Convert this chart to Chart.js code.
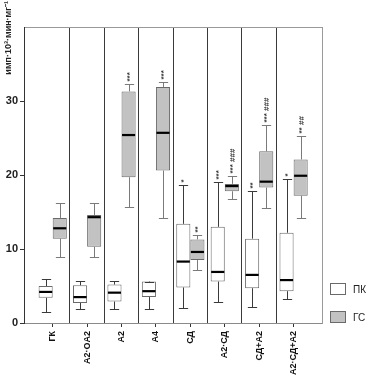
<!DOCTYPE html>
<html>
<head>
<meta charset="utf-8">
<script src="https://cdn.jsdelivr.net/npm/chart.js@4.4.1/dist/chart.umd.min.js"></script>
<style>
  html, body { margin: 0; padding: 0; background: #fff; }
  #wrap { position: relative; width: 372px; height: 378px; }
  #legend { position: absolute; left: 330px; top: 283px; font: 10px 'Liberation Sans', sans-serif; color: #222; }
  #legend .item { display: flex; align-items: center; height: 12px; margin-bottom: 16px; }
  #legend .box { width: 16px; height: 12px; box-sizing: border-box; border: 1px solid; margin-right: 7px; }
</style>
</head>
<body>
<div id="wrap"><canvas id="chart"></canvas><div id="legend"></div></div>
<script>
const groups = ['ГК', 'A2·OA2', 'A2', 'A4', 'СД', 'A2·СД', 'СД+A2', 'A2·СД+A2'];
const yTicks = [0, 10, 20, 30];
const yTitle = 'имп·10³·мин·мг⁻¹';

// ПК
const pkMin = [1.5, 1.9, 1.9, 1.9, 2.0, 2.8, 2.2, 3.2];
const pkQ1  = [3.4, 2.7, 2.9, 3.5, 4.8, 5.6, 4.7, 4.3];
const pkMed = [4.2, 3.5, 4.1, 4.3, 8.3, 6.9, 6.5, 5.8];
const pkQ3  = [5.0, 5.1, 5.2, 5.6, 13.4, 13.0, 11.4, 12.2];
const pkMax = [6.0, 5.7, 5.7, 5.6, 18.7, 19.0, 17.8, 19.4];
const pkMarks = ['', '', '', '', '*', '***', '**', '*'];

// ГС
const gsMin = [8.9, 8.9, 15.7, 14.2, 7.1, 16.7, 15.5, 14.2];
const gsQ1  = [11.4, 10.3, 19.7, 20.6, 8.5, 17.8, 18.3, 17.2];
const gsMed = [12.8, 14.3, 25.4, 25.7, 9.6, 18.5, 19.1, 19.9];
const gsQ3  = [14.2, 14.6, 31.3, 31.9, 11.3, 18.8, 23.2, 22.1];
const gsMax = [16.2, 16.2, 32.3, 32.6, 11.9, 19.8, 26.8, 25.3];
const gsMarks = ['', '', '***', '***', '**', '*** ###', '*** ###', '** ##'];

const series = [
  { min: pkMin, med: pkMed, max: pkMax, marks: pkMarks, whisker: '#3a3a3a' },
  { min: gsMin, med: gsMed, max: gsMax, marks: gsMarks, whisker: '#7a7a7a' }
];

const FONT = 'Liberation Sans';
const X_MIN = -0.834, X_MAX = 7.834;

/* whiskers, medians and significance marks on top of the boxes */
const boxParts = {
  id: 'boxParts',
  afterDatasetsDraw(chart) {
    const { ctx, scales: { y } } = chart;
    ctx.save();
    series.forEach((s, di) => {
      chart.getDatasetMeta(di).data.forEach((bar, i) => {
        const x = Math.round(bar.x) + 0.5;
        const w = bar.width;
        const lo = Math.round(y.getPixelForValue(s.min[i])) + 0.5;
        const hi = Math.round(y.getPixelForValue(s.max[i])) + 0.5;
        const { y: top, base } = bar.getProps(['y', 'base'], true);
        const q3 = Math.min(top, base), q1 = Math.max(top, base);
        ctx.strokeStyle = s.whisker;
        ctx.lineWidth = 1;
        ctx.beginPath();
        ctx.moveTo(x, q3); ctx.lineTo(x, hi);
        ctx.moveTo(x, q1); ctx.lineTo(x, lo);
        ctx.moveTo(x - w * 0.33, hi); ctx.lineTo(x + w * 0.33, hi);
        ctx.moveTo(x - w * 0.33, lo); ctx.lineTo(x + w * 0.33, lo);
        ctx.stroke();

        ctx.strokeStyle = '#000';
        ctx.lineWidth = 2.2;
        ctx.beginPath();
        const m = y.getPixelForValue(s.med[i]);
        ctx.moveTo(bar.x - w / 2 + 0.5, m); ctx.lineTo(bar.x + w / 2 - 0.5, m);
        ctx.stroke();

        if (s.marks[i]) {
          ctx.save();
          ctx.translate(x + 0.5, hi - 3);
          ctx.rotate(-Math.PI / 2);
          ctx.fillStyle = '#333';
          ctx.font = 'bold 8px "' + FONT + '"';
          ctx.textAlign = 'left';
          ctx.textBaseline = 'middle';
          ctx.fillText(s.marks[i], 0, 0);
          ctx.restore();
        }
      });
    });
    ctx.restore();
  },
  afterDraw(chart) {
    const { ctx } = chart;
    ctx.save();
    ctx.translate(9, 1);
    ctx.rotate(-Math.PI / 2);
    ctx.fillStyle = '#222';
    ctx.font = 'bold 9px "' + FONT + '"';
    ctx.textAlign = 'right';
    ctx.textBaseline = 'middle';
    ctx.fillText(yTitle, 0, 0);
    ctx.restore();
  }
};

/* legend as html, built from the chart's own legend items */
const htmlLegend = {
  id: 'htmlLegend',
  afterUpdate(chart) {
    const list = document.querySelector('#legend');
    list.innerHTML = '';
    chart.options.plugins.legend.labels.generateLabels(chart).forEach(item => {
      const row = document.createElement('div');
      row.className = 'item';
      const box = document.createElement('span');
      box.className = 'box';
      box.style.background = item.fillStyle;
      box.style.borderColor = item.strokeStyle;
      const txt = document.createElement('span');
      txt.textContent = item.text;
      row.append(box, txt);
      list.append(row);
    });
  }
};

const boxData = (q1, q3) => groups.map((g, i) => ({ x: i, y: [q1[i], q3[i]] }));

new Chart(document.querySelector('#chart'), {
  type: 'bar',
  data: {
    datasets: [{
      label: 'ПК',
      data: boxData(pkQ1, pkQ3),
      backgroundColor: '#ffffff',
      borderColor: '#6a6a6a',
      borderWidth: 1,
      borderSkipped: false,
      categoryPercentage: 0.82,
      barPercentage: 1
    }, {
      label: 'ГС',
      data: boxData(gsQ1, gsQ3),
      backgroundColor: '#c2c2c2',
      borderColor: '#6a6a6a',
      borderWidth: 1,
      borderSkipped: false,
      categoryPercentage: 0.82,
      barPercentage: 1
    }]
  },
  options: {
    responsive: true,
    maintainAspectRatio: false,
    animation: false,
    layout: { padding: { top: 27, right: 49.7, bottom: 0, left: 0 } },
    plugins: {
      tooltip: { enabled: false },
      legend: { display: false }
    },
    scales: {
      x: {
        type: 'linear',
        min: X_MIN,
        max: X_MAX,
        offset: false,
        afterBuildTicks: s => { s.ticks = groups.map((g, i) => ({ value: i })); },
        afterFit: s => { s.height = 55; },
        grid: { drawOnChartArea: false, drawTicks: true, tickLength: 4, color: '#333', offset: false },
        border: { color: '#8a8a8a' },
        ticks: {
          autoSkip: false,
          maxRotation: 90,
          minRotation: 90,
          padding: 4,
          color: '#111',
          font: { family: FONT, size: 9, weight: 'bold' },
          callback: v => groups[v]
        }
      },
      xg: {
        type: 'linear',
        position: 'top',
        min: X_MIN,
        max: X_MAX,
        offset: false,
        afterBuildTicks: s => { s.ticks = groups.slice(1).map((g, i) => ({ value: i + 0.5 })); },
        ticks: { display: false },
        grid: { drawTicks: false, color: '#3a3a3a', offset: false },
        border: { color: '#9a9a9a' }
      },
      y: {
        min: 0,
        max: 40,
        afterBuildTicks: s => { s.ticks = yTicks.map(v => ({ value: v })); },
        afterFit: s => { s.width = 24; },
        grid: { drawOnChartArea: false, tickLength: 4, color: '#333' },
        border: { color: '#333' },
        ticks: { padding: 2, color: '#222', font: { family: FONT, size: 11, weight: 'bold' } }
      },
      yr: {
        position: 'right',
        min: 0,
        max: 40,
        ticks: { display: false },
        grid: { drawOnChartArea: false, drawTicks: false },
        border: { color: '#9a9a9a' }
      }
    }
  },
  plugins: [boxParts, htmlLegend]
});
</script>
</body>
</html>
